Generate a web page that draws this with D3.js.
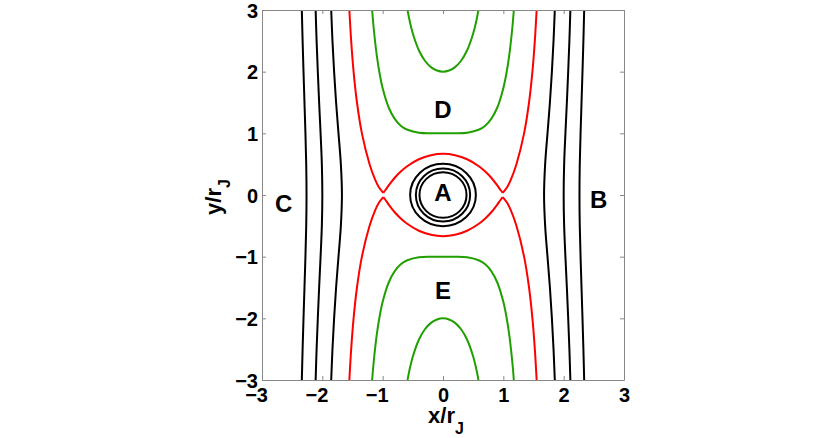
<!DOCTYPE html>
<html>
<head>
<meta charset="utf-8">
<script src="https://cdn.jsdelivr.net/npm/d3@7"></script>
<style>
  body { margin: 0; background: #fff; }
  text { font-family: "Liberation Sans", Arial, sans-serif; font-weight: bold; }
</style>
</head>
<body>
<div id="chart"></div>
<script>
// tick labels
var xTicks = [-3, -2, -1, 0, 1, 2, 3];
var yTicks = [-3, -2, -1, 0, 1, 2, 3];

// black outer curves, right side (x at given y)
var blackR1 = [[1.853,-3],[1.832,-2.5],[1.805,-2],[1.772,-1.5],[1.732,-1],[1.693,-0.5],[1.675,0],[1.693,0.5],[1.732,1],[1.772,1.5],[1.805,2],[1.832,2.5],[1.853,3]];
var blackR2 = [[2.111,-3],[2.095,-2.5],[2.075,-2],[2.053,-1.5],[2.029,-1],[2.008,-0.5],[2.0,0],[2.008,0.5],[2.029,1],[2.053,1.5],[2.075,2],[2.095,2.5],[2.111,3]];
var blackR3 = [[2.340,-3],[2.327,-2.5],[2.312,-2],[2.296,-1.5],[2.280,-1],[2.267,-0.5],[2.262,0],[2.267,0.5],[2.280,1],[2.296,1.5],[2.312,2],[2.327,2.5],[2.340,3]];
// black outer curves, left side
var blackL1 = [[-1.853,-3],[-1.832,-2.5],[-1.805,-2],[-1.772,-1.5],[-1.732,-1],[-1.693,-0.5],[-1.675,0],[-1.693,0.5],[-1.732,1],[-1.772,1.5],[-1.805,2],[-1.832,2.5],[-1.853,3]];
var blackL2 = [[-2.111,-3],[-2.095,-2.5],[-2.075,-2],[-2.053,-1.5],[-2.029,-1],[-2.008,-0.5],[-2.0,0],[-2.008,0.5],[-2.029,1],[-2.053,1.5],[-2.075,2],[-2.095,2.5],[-2.111,3]];
var blackL3 = [[-2.340,-3],[-2.327,-2.5],[-2.312,-2],[-2.296,-1.5],[-2.280,-1],[-2.267,-0.5],[-2.262,0],[-2.267,0.5],[-2.280,1],[-2.296,1.5],[-2.312,2],[-2.327,2.5],[-2.340,3]];

// rings round A
var ringRx = [0.545, 0.45, 0.39];
var ringRy = [0.505, 0.43, 0.37];

// red separatrix pieces
var redUpLeft = [[-1.552,3],[-1.522,2.5],[-1.482,2],[-1.426,1.5],[-1.344,1],[-1.217,0.5],[-1.125,0.25],[-1.065,0.13],[-0.99,0.035]];
var redUpRight = [[1.552,3],[1.522,2.5],[1.482,2],[1.426,1.5],[1.344,1],[1.217,0.5],[1.125,0.25],[1.065,0.13],[0.99,0.035]];
var redDownLeft = [[-1.552,-3],[-1.522,-2.5],[-1.482,-2],[-1.426,-1.5],[-1.344,-1],[-1.217,-0.5],[-1.125,-0.25],[-1.065,-0.13],[-0.99,-0.035]];
var redDownRight = [[1.552,-3],[1.522,-2.5],[1.482,-2],[1.426,-1.5],[1.344,-1],[1.217,-0.5],[1.125,-0.25],[1.065,-0.13],[0.99,-0.035]];
var redLobeUp = [[-0.99,0.035],[-0.95,0.085],[-0.9,0.155],[-0.8,0.28],[-0.7,0.381],[-0.6,0.463],[-0.4,0.58],[-0.2,0.645],[0,0.667],[0.2,0.645],[0.4,0.58],[0.6,0.463],[0.7,0.381],[0.8,0.28],[0.9,0.155],[0.95,0.085],[0.99,0.035]];
var redLobeDown = [[-0.99,-0.035],[-0.95,-0.085],[-0.9,-0.155],[-0.8,-0.28],[-0.7,-0.381],[-0.6,-0.463],[-0.4,-0.58],[-0.2,-0.645],[0,-0.667],[0.2,-0.645],[0.4,-0.58],[0.6,-0.463],[0.7,-0.381],[0.8,-0.28],[0.9,-0.155],[0.95,-0.085],[0.99,-0.035]];

// green curves
var greenD = [[-1.174,3],[-1.15,2.72],[-1.1,2.28],[-1.05,1.966],[-1,1.732],[-0.9,1.419],[-0.8,1.234],[-0.7,1.124],[-0.6,1.062],[-0.4,1.011],[-0.2,1.001],[0,1],[0.2,1.001],[0.4,1.011],[0.6,1.062],[0.7,1.124],[0.8,1.234],[0.9,1.419],[1,1.732],[1.05,1.966],[1.1,2.28],[1.15,2.72],[1.174,3]];
var greenTop = [[-0.588,3],[-0.55,2.814],[-0.5,2.619],[-0.4,2.347],[-0.3,2.177],[-0.2,2.074],[-0.1,2.018],[0,2],[0.1,2.018],[0.2,2.074],[0.3,2.177],[0.4,2.347],[0.5,2.619],[0.55,2.814],[0.588,3]];
var greenE = [[-1.174,-3],[-1.15,-2.72],[-1.1,-2.28],[-1.05,-1.966],[-1,-1.732],[-0.9,-1.419],[-0.8,-1.234],[-0.7,-1.124],[-0.6,-1.062],[-0.4,-1.011],[-0.2,-1.001],[0,-1],[0.2,-1.001],[0.4,-1.011],[0.6,-1.062],[0.7,-1.124],[0.8,-1.234],[0.9,-1.419],[1,-1.732],[1.05,-1.966],[1.1,-2.28],[1.15,-2.72],[1.174,-3]];
var greenBottom = [[-0.588,-3],[-0.55,-2.814],[-0.5,-2.619],[-0.4,-2.347],[-0.3,-2.177],[-0.2,-2.074],[-0.1,-2.018],[0,-2],[0.1,-2.018],[0.2,-2.074],[0.3,-2.177],[0.4,-2.347],[0.5,-2.619],[0.55,-2.814],[0.588,-3]];

// region letters
var regionNames = ["A", "B", "C", "D", "E"];
var regionX = [0, 2.58, -2.64, 0, 0];
var regionY = [0.04, -0.07, -0.13, 1.39, -1.54];

var width = 830, height = 438;
var plotLeft = 262, plotRight = 624, plotTop = 10, plotBottom = 380;

var svg = d3.select("#chart").append("svg")
    .attr("width", width)
    .attr("height", height);

var x = d3.scaleLinear().domain([-3, 3]).range([plotLeft, plotRight]);
var y = d3.scaleLinear().domain([-3, 3]).range([plotBottom, plotTop]);

svg.append("clipPath").attr("id", "plotclip")
    .append("rect")
    .attr("x", plotLeft).attr("y", plotTop)
    .attr("width", plotRight - plotLeft).attr("height", plotBottom - plotTop);

var plot = svg.append("g").attr("clip-path", "url(#plotclip)");

var line = d3.line()
    .x(function(d) { return x(d[0]); })
    .y(function(d) { return y(d[1]); })
    .curve(d3.curveCatmullRom.alpha(0.5));

var curves = [
    {pts: greenD, color: "#20a000"}, {pts: greenTop, color: "#20a000"},
    {pts: greenE, color: "#20a000"}, {pts: greenBottom, color: "#20a000"},
    {pts: redUpLeft, color: "#ff0000"}, {pts: redUpRight, color: "#ff0000"},
    {pts: redDownLeft, color: "#ff0000"}, {pts: redDownRight, color: "#ff0000"},
    {pts: redLobeUp, color: "#ff0000"}, {pts: redLobeDown, color: "#ff0000"},
    {pts: blackR1, color: "#000"}, {pts: blackR2, color: "#000"}, {pts: blackR3, color: "#000"},
    {pts: blackL1, color: "#000"}, {pts: blackL2, color: "#000"}, {pts: blackL3, color: "#000"}
];

plot.selectAll("path.curve")
    .data(curves)
    .enter().append("path")
    .attr("class", "curve")
    .attr("d", function(d) { return line(d.pts); })
    .attr("fill", "none")
    .attr("stroke", function(d) { return d.color; })
    .attr("stroke-width", 2);

plot.selectAll("ellipse.ring")
    .data(ringRx)
    .enter().append("ellipse")
    .attr("class", "ring")
    .attr("cx", x(0))
    .attr("cy", y(0))
    .attr("rx", function(d) { return x(d) - x(0); })
    .attr("ry", function(d, i) { return y(0) - y(ringRy[i]); })
    .attr("fill", "none")
    .attr("stroke", "#000")
    .attr("stroke-width", 2);

svg.selectAll("text.region")
    .data(regionNames)
    .enter().append("text")
    .attr("class", "region")
    .attr("x", function(d, i) { return x(regionX[i]); })
    .attr("y", function(d, i) { return y(regionY[i]); })
    .attr("dy", "0.36em")
    .attr("text-anchor", "middle")
    .style("font-size", "24px")
    .text(function(d) { return d; });

// axes, ticks pointing inward on all four sides
var axisColor = "#888";
var fmt = d3.format("d");

var gx = svg.append("g").attr("transform", "translate(0," + plotBottom + ")")
    .call(d3.axisBottom(x).tickValues(xTicks).tickFormat(fmt).tickSizeInner(-4).tickSizeOuter(0));
gx.selectAll("text").attr("y", 22).attr("dy", null).attr("dx", 5.5).attr("text-anchor", "end");

var gxt = svg.append("g").attr("transform", "translate(0," + plotTop + ")")
    .call(d3.axisTop(x).tickValues(xTicks).tickFormat("").tickSizeInner(-4).tickSizeOuter(0));

var gy = svg.append("g").attr("transform", "translate(" + plotLeft + ",0)")
    .call(d3.axisLeft(y).tickValues(yTicks).tickFormat(fmt).tickSizeInner(-4).tickSizeOuter(0));
gy.selectAll("text").attr("x", -4).attr("dy", "0.36em");

var gyr = svg.append("g").attr("transform", "translate(" + plotRight + ",0)")
    .call(d3.axisRight(y).tickValues(yTicks).tickFormat("").tickSizeInner(-4).tickSizeOuter(0));

[gx, gxt, gy, gyr].forEach(function(g) {
    g.select(".domain").attr("stroke", axisColor);
    g.selectAll(".tick line").attr("stroke", axisColor);
    g.selectAll("text").attr("fill", "#000").style("font-size", "20px")
        .style("font-family", "'Liberation Sans', Arial, sans-serif").style("font-weight", "bold");
});

// axis titles
var xt = svg.append("text")
    .attr("x", 446).attr("y", 423)
    .attr("text-anchor", "middle")
    .style("font-size", "22px");
xt.append("tspan").text("x/r");
xt.append("tspan").attr("dy", 11).style("font-size", "16px").text("J");

var yt = svg.append("text")
    .attr("transform", "translate(221,197) rotate(-90)")
    .attr("text-anchor", "middle")
    .style("font-size", "22px");
yt.append("tspan").text("y/r");
yt.append("tspan").attr("dy", 9).style("font-size", "16px").text("J");
</script>
</body>
</html>
